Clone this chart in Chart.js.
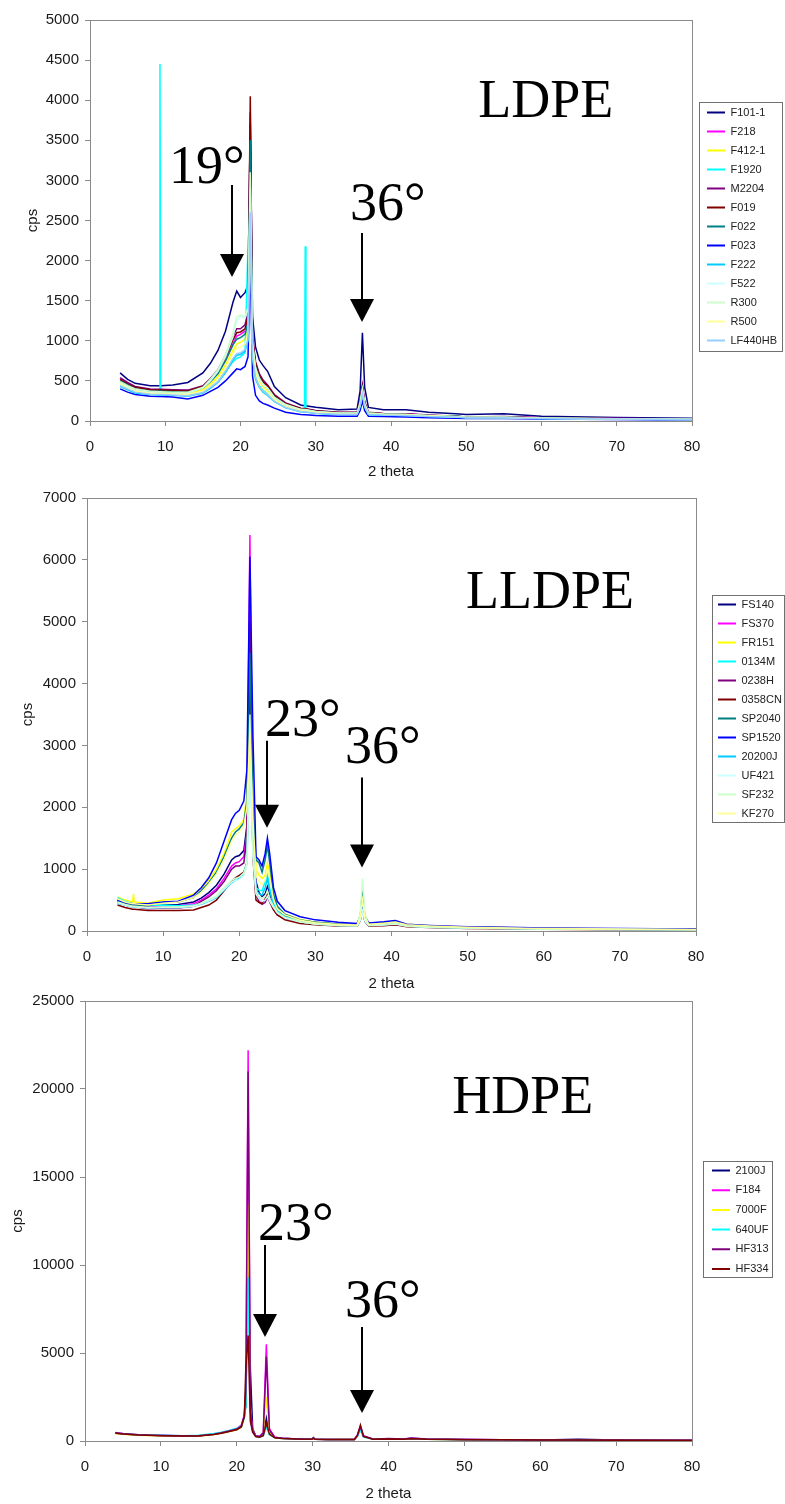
<!DOCTYPE html>
<html>
<head>
<meta charset="utf-8">
<title>XRD patterns of LDPE, LLDPE and HDPE films</title>
<script src="https://cdn.jsdelivr.net/npm/chart.js@4.4.1/dist/chart.umd.min.js"></script>
<style>
  html, body { margin: 0; padding: 0; background: #fff; }
  body { position: relative; width: 785px; height: 1504px; overflow: hidden; }
  canvas { position: absolute; left: 0; }
</style>
</head>
<body>
<canvas id="ldpeChart" width="785" height="486" style="top:0px"></canvas>
<canvas id="lldpeChart" width="785" height="515" style="top:483px"></canvas>
<canvas id="hdpeChart" width="785" height="519" style="top:985px"></canvas>
<script>
// x axis (2 theta) ticks, shared by the three panels
const thetaTicks = [0, 10, 20, 30, 40, 50, 60, 70, 80]

// ---- LDPE ----
const ldpeNames = ['F101-1', 'F218', 'F412-1', 'F1920', 'M2204', 'F019', 'F022', 'F023', 'F222', 'F522', 'R300', 'R500', 'LF440HB']
const ldpeYTicks = [0, 500, 1000, 1500, 2000, 2500, 3000, 3500, 4000, 4500, 5000]
const ldpeTheta = [4, 5, 6, 8, 9.2, 9.3, 9.4, 11, 13, 15, 16, 17, 18, 19, 19.5, 20, 20.6, 21, 21.3, 21.6, 22, 22.5, 23, 23.6, 24.5, 26, 28, 28.5, 28.6, 28.7, 30, 33, 35.5, 35.9, 36.2, 36.5, 37, 39, 42, 45, 48.6, 50, 55, 60, 70, 80]
const ldpeCps = [
  [600, 520, 470, 440, 440, 440, 440, 450, 480, 600, 720, 880, 1120, 1480, 1620, 1540, 1600, 1700, 3700, 1300, 920, 760, 690, 620, 430, 290, 200, 190, 190, 190, 170, 140, 150, 380, 1100, 420, 170, 140, 140, 110, 90, 80, 90, 60, 45, 35],
  [520, 470, 420, 390, 385, 385, 385, 380, 370, 420, 500, 600, 760, 960, 1060, 1080, 1120, 1250, 3300, 1000, 700, 560, 480, 420, 310, 210, 150, 145, 145, 145, 120, 100, 100, 230, 420, 230, 100, 90, 90, 70, 60, 50, 50, 40, 30, 25],
  [480, 430, 390, 360, 355, 355, 355, 350, 345, 390, 460, 550, 700, 880, 960, 980, 1020, 1150, 2700, 900, 620, 500, 430, 380, 280, 190, 135, 130, 130, 130, 110, 95, 95, 210, 380, 200, 95, 85, 80, 65, 55, 45, 45, 35, 28, 22],
  [450, 400, 360, 340, 340, 4450, 340, 330, 320, 350, 410, 490, 620, 740, 780, 800, 850, 2200, 2600, 820, 560, 450, 390, 340, 250, 170, 120, 120, 2180, 120, 100, 85, 85, 200, 360, 190, 85, 75, 70, 60, 70, 45, 40, 32, 25, 20],
  [540, 480, 430, 400, 395, 395, 395, 390, 385, 440, 530, 640, 820, 1050, 1150, 1150, 1200, 1350, 3850, 1050, 740, 590, 510, 450, 330, 225, 160, 155, 155, 155, 130, 110, 110, 250, 450, 240, 110, 95, 90, 75, 60, 50, 55, 40, 30, 25],
  [520, 460, 420, 390, 385, 385, 385, 380, 375, 430, 520, 620, 790, 1010, 1100, 1110, 1150, 1300, 4050, 1020, 720, 570, 490, 440, 320, 215, 155, 150, 150, 150, 125, 105, 105, 240, 430, 230, 105, 90, 85, 70, 58, 48, 50, 38, 28, 22],
  [500, 450, 400, 375, 370, 370, 370, 365, 360, 410, 490, 590, 750, 950, 1020, 1040, 1080, 1220, 3500, 960, 680, 540, 460, 410, 300, 205, 145, 140, 140, 140, 118, 100, 100, 225, 400, 215, 100, 88, 82, 68, 55, 46, 48, 36, 27, 21],
  [400, 360, 330, 310, 305, 305, 305, 300, 275, 320, 370, 420, 500, 600, 650, 640, 680, 800, 2000, 560, 320, 250, 220, 200, 160, 110, 80, 78, 78, 78, 70, 60, 58, 130, 250, 130, 60, 55, 50, 42, 35, 30, 30, 25, 18, 14],
  [430, 390, 350, 330, 325, 325, 325, 320, 310, 350, 410, 480, 600, 760, 820, 830, 870, 1000, 3000, 780, 520, 420, 360, 320, 240, 165, 115, 112, 112, 112, 95, 80, 80, 180, 330, 175, 80, 72, 68, 55, 48, 40, 38, 30, 23, 18],
  [470, 420, 380, 355, 350, 350, 350, 345, 350, 410, 500, 620, 800, 1050, 1250, 1300, 1280, 1400, 2900, 950, 650, 520, 450, 400, 290, 200, 140, 138, 138, 138, 115, 97, 97, 220, 390, 210, 97, 85, 80, 66, 54, 45, 46, 35, 26, 20],
  [490, 440, 400, 370, 365, 365, 365, 360, 360, 420, 520, 640, 830, 1100, 1300, 1320, 1300, 1420, 3100, 970, 660, 530, 460, 410, 295, 205, 145, 142, 142, 142, 118, 100, 100, 230, 400, 215, 100, 88, 82, 68, 56, 46, 47, 36, 27, 21],
  [460, 410, 370, 345, 340, 340, 340, 335, 330, 370, 440, 520, 660, 840, 910, 920, 960, 1100, 2500, 860, 590, 470, 410, 360, 265, 180, 128, 125, 125, 125, 105, 90, 90, 200, 360, 190, 90, 80, 75, 62, 52, 43, 43, 33, 25, 19],
  [440, 400, 360, 335, 330, 330, 330, 325, 315, 355, 420, 490, 620, 780, 840, 850, 890, 1020, 2600, 800, 540, 430, 370, 330, 245, 168, 118, 115, 115, 115, 98, 83, 83, 185, 340, 180, 83, 74, 70, 57, 49, 41, 40, 31, 24, 18]
]

// ---- LLDPE ----
const lldpeNames = ['FS140', 'FS370', 'FR151', '0134M', '0238H', '0358CN', 'SP2040', 'SP1520', '20200J', 'UF421', 'SF232', 'KF270']
const lldpeYTicks = [0, 1000, 2000, 3000, 4000, 5000, 6000, 7000]
const lldpeTheta = [4, 5, 6, 6.1, 6.2, 8, 10, 12, 14, 15, 16, 17, 18, 19, 19.5, 20, 20.6, 21, 21.4, 21.8, 22.2, 22.6, 23, 23.4, 23.7, 24, 24.5, 25, 26, 28, 30, 33, 35.5, 35.9, 36.2, 36.5, 37, 39, 40.5, 42, 45, 50, 55, 60, 70, 80]
const lldpeCps = [
  [500, 450, 420, 420, 420, 400, 420, 430, 470, 530, 620, 740, 920, 1150, 1200, 1220, 1300, 1700, 5300, 1600, 800, 620, 560, 600, 720, 600, 420, 320, 240, 170, 140, 110, 100, 200, 380, 180, 100, 110, 130, 90, 70, 55, 45, 38, 30, 25],
  [480, 440, 410, 410, 410, 390, 400, 410, 440, 500, 580, 680, 850, 1050, 1100, 1120, 1200, 1600, 6400, 1500, 700, 520, 470, 500, 600, 520, 380, 290, 220, 160, 130, 100, 95, 190, 360, 170, 95, 100, 120, 85, 65, 50, 42, 35, 28, 22],
  [550, 500, 470, 600, 470, 450, 500, 520, 600, 690, 830, 1000, 1250, 1600, 1650, 1700, 1800, 2200, 3300, 2400, 1000, 900, 850, 900, 1100, 950, 550, 380, 270, 185, 140, 110, 100, 260, 600, 230, 120, 140, 160, 110, 85, 65, 55, 45, 35, 28],
  [540, 480, 440, 440, 440, 410, 420, 410, 420, 450, 500, 560, 680, 800, 840, 880, 950, 1100, 3700, 1400, 700, 660, 650, 800, 930, 700, 450, 320, 230, 160, 120, 95, 90, 200, 400, 180, 95, 105, 120, 85, 65, 50, 40, 35, 28, 22],
  [470, 420, 390, 390, 390, 360, 370, 370, 400, 480, 550, 650, 800, 1000, 1050, 1050, 1100, 1500, 5000, 1300, 600, 470, 430, 460, 550, 470, 340, 260, 200, 140, 115, 90, 85, 180, 350, 160, 90, 95, 110, 80, 60, 48, 40, 33, 26, 20],
  [420, 380, 350, 350, 350, 330, 330, 330, 340, 380, 420, 500, 650, 800, 860, 900, 950, 1100, 4300, 1200, 500, 460, 450, 520, 620, 480, 350, 260, 180, 120, 100, 80, 75, 170, 450, 160, 80, 85, 100, 70, 55, 42, 35, 30, 22, 18],
  [480, 440, 420, 420, 420, 410, 460, 470, 540, 650, 780, 950, 1200, 1500, 1600, 1650, 1750, 2100, 4500, 2000, 1150, 1100, 950, 1150, 1380, 1100, 600, 400, 270, 180, 140, 110, 100, 240, 650, 220, 110, 130, 150, 100, 80, 60, 50, 42, 32, 26],
  [500, 460, 440, 440, 440, 440, 470, 480, 580, 700, 860, 1100, 1450, 1800, 1900, 1950, 2100, 2600, 6050, 3150, 1200, 1150, 1050, 1250, 1500, 1250, 700, 480, 330, 230, 180, 140, 120, 250, 400, 240, 130, 150, 170, 110, 90, 70, 60, 50, 40, 32],
  [450, 420, 390, 390, 390, 370, 380, 380, 400, 430, 480, 540, 660, 780, 820, 850, 920, 1100, 3000, 1300, 650, 600, 580, 700, 850, 650, 420, 300, 220, 150, 115, 90, 85, 180, 330, 170, 90, 100, 115, 80, 62, 48, 40, 33, 26, 20],
  [460, 420, 390, 390, 390, 370, 380, 380, 400, 440, 490, 550, 670, 790, 820, 830, 900, 1050, 2800, 1200, 600, 520, 480, 500, 560, 480, 380, 290, 210, 145, 112, 88, 82, 175, 320, 165, 88, 98, 112, 78, 60, 47, 39, 32, 25, 19],
  [470, 430, 400, 400, 400, 380, 390, 390, 410, 450, 500, 570, 700, 820, 850, 870, 940, 1100, 3500, 1300, 650, 560, 520, 560, 650, 520, 400, 300, 220, 150, 115, 90, 85, 300, 850, 280, 95, 105, 120, 82, 62, 48, 40, 33, 26, 20],
  [520, 470, 440, 440, 440, 420, 450, 470, 540, 620, 760, 920, 1150, 1450, 1550, 1600, 1700, 2000, 3200, 1800, 900, 800, 750, 820, 1000, 850, 500, 360, 260, 175, 135, 105, 95, 220, 500, 210, 110, 125, 145, 100, 80, 60, 50, 42, 32, 26]
]

// ---- HDPE ----
const hdpeNames = ['2100J', 'F184', '7000F', '640UF', 'HF313', 'HF334']
const hdpeYTicks = [0, 5000, 10000, 15000, 20000, 25000]
const hdpeTheta = [4, 5, 7, 10, 13, 15, 17, 18, 19, 20, 20.6, 21, 21.2, 21.5, 21.8, 22.1, 22.5, 23, 23.5, 23.9, 24.3, 25, 26, 28, 29.9, 30.1, 30.3, 32, 35.5, 35.9, 36.3, 36.7, 38, 40, 42, 43, 45, 50, 55, 60, 65, 70, 80]
const hdpeCps = [
  [450, 400, 340, 310, 300, 300, 380, 450, 550, 650, 800, 1400, 2000, 10500, 4000, 700, 300, 250, 400, 1300, 500, 200, 150, 120, 110, 200, 110, 90, 90, 300, 700, 250, 100, 120, 110, 150, 110, 80, 70, 60, 100, 50, 40],
  [480, 420, 350, 320, 290, 300, 400, 480, 580, 700, 900, 1500, 3000, 22200, 1800, 600, 280, 250, 500, 5500, 700, 220, 150, 120, 100, 180, 100, 90, 90, 350, 850, 300, 100, 130, 110, 160, 110, 80, 70, 60, 60, 50, 40],
  [430, 390, 330, 300, 280, 290, 370, 440, 540, 640, 780, 1300, 2500, 13500, 1500, 550, 260, 230, 380, 2500, 450, 200, 140, 110, 100, 150, 100, 85, 85, 280, 650, 230, 95, 110, 100, 130, 100, 75, 65, 55, 55, 45, 35],
  [460, 410, 350, 320, 300, 320, 420, 500, 600, 720, 850, 1300, 2000, 9300, 1200, 500, 250, 220, 300, 800, 350, 180, 140, 110, 100, 160, 100, 85, 85, 260, 600, 220, 95, 110, 100, 130, 100, 75, 65, 55, 55, 45, 35],
  [470, 410, 350, 310, 290, 300, 390, 470, 570, 680, 850, 1400, 2800, 21000, 1700, 580, 270, 240, 450, 4800, 650, 210, 150, 120, 100, 170, 100, 90, 90, 320, 800, 280, 100, 140, 110, 150, 110, 80, 70, 60, 60, 50, 40],
  [440, 400, 340, 300, 280, 290, 370, 440, 540, 640, 800, 1400, 4200, 6000, 1100, 500, 250, 220, 300, 1000, 400, 180, 140, 110, 100, 150, 100, 85, 85, 300, 900, 260, 95, 110, 100, 130, 100, 75, 65, 55, 55, 45, 35]
]

// Excel 2003 default series colours
const seriesColors = ['#000080', '#FF00FF', '#FFFF00', '#00FFFF', '#800080', '#800000', '#008080', '#0000FF', '#00CCFF', '#CCFFFF', '#CCFFCC', '#FFFF99', '#99CCFF']
const axisGray = '#8a8a8a'

Chart.defaults.font.family = "'Liberation Sans', Arial, sans-serif"
Chart.defaults.color = '#1a1a1a'

// grey frame round the plot area (Excel style)
const plotFrame = {
  id: 'plotFrame',
  afterDraw(chart) {
    const { ctx, chartArea: a } = chart
    ctx.save()
    ctx.strokeStyle = axisGray
    ctx.lineWidth = 1
    ctx.strokeRect(Math.round(a.left) + 0.5, Math.round(a.top) + 0.5, Math.round(a.right - a.left), Math.round(a.bottom - a.top))
    ctx.restore()
  }
}

// move the legend to the right of the plot and box it
const legendSpot = spot => ({
  id: 'legendSpot',
  afterLayout(chart) {
    const lg = chart.legend
    lg.left = spot.x - spot.gap
    lg.right = lg.left + lg.width
    lg.top = spot.y - spot.gap
    lg.bottom = lg.top + lg.height
  },
  afterDraw(chart) {
    const boxes = chart.legend.legendHitBoxes
    if (!boxes || !boxes.length) return
    const left = Math.min(...boxes.map(b => b.left)) - spot.frame[0]
    const top = Math.min(...boxes.map(b => b.top)) - spot.frame[1]
    const right = Math.max(...boxes.map(b => b.left + b.width)) + spot.frame[2]
    const bottom = Math.max(...boxes.map(b => b.top + b.height)) + spot.frame[3]
    const ctx = chart.ctx
    ctx.save()
    ctx.strokeStyle = '#707070'
    ctx.lineWidth = 1
    ctx.strokeRect(Math.round(left) + 0.5, Math.round(top) + 0.5, Math.round(right - left), Math.round(bottom - top))
    ctx.restore()
  }
})

// big serif labels and the arrows pointing at the peaks
const peakMarks = marks => ({
  id: 'peakMarks',
  afterDraw(chart) {
    const { ctx, scales: { x, y } } = chart
    ctx.save()
    ctx.fillStyle = '#000'
    ctx.strokeStyle = '#000'
    ctx.font = "54px 'Liberation Serif', 'Times New Roman', serif"
    ctx.textAlign = 'left'
    ctx.textBaseline = 'alphabetic'
    ctx.fillText(marks.title, x.getPixelForValue(marks.titleAt[0]), y.getPixelForValue(marks.titleAt[1]))
    marks.arrows.forEach(a => {
      const px = Math.round(x.getPixelForValue(a.at[0]))
      const py = y.getPixelForValue(a.at[1])
      ctx.lineWidth = 2
      ctx.beginPath()
      ctx.moveTo(px, py - a.len)
      ctx.lineTo(px, py - 20)
      ctx.stroke()
      ctx.beginPath()
      ctx.moveTo(px - 12, py - 23)
      ctx.lineTo(px + 12, py - 23)
      ctx.lineTo(px, py)
      ctx.closePath()
      ctx.fill()
      ctx.fillText(a.text, px + a.dx, py + a.dy)
    })
    ctx.restore()
  }
})

function drawXrd(canvasId, s) {
  const count = s.names.length
  const datasets = s.names.map((name, i) => ({
    label: name,
    data: s.theta.map((t, j) => ({ x: t, y: s.cps[i][j] })),
    borderColor: seriesColors[i],
    backgroundColor: seriesColors[i],
    borderWidth: 1.5,
    pointRadius: 0,
    tension: 0,
    order: count - i // later series paint on top, like Excel
  }))

  return new Chart(document.getElementById(canvasId), {
    type: 'line',
    data: { datasets },
    options: {
      responsive: false,
      devicePixelRatio: 1,
      animation: false,
      events: [],
      layout: { padding: { left: 0, right: s.right, top: s.top, bottom: 0 } },
      plugins: {
        legend: {
          position: 'chartArea',
          align: 'start',
          labels: {
            boxWidth: 18,
            boxHeight: 2,
            padding: s.legend.gap,
            color: '#222',
            font: { size: 11 },
            sort: (a, b) => a.datasetIndex - b.datasetIndex,
            // plain coloured strip as the line sample
            generateLabels: chart => Chart.defaults.plugins.legend.labels.generateLabels(chart)
              .map(item => ({ ...item, fillStyle: seriesColors[item.datasetIndex], lineWidth: 0 }))
          }
        },
        tooltip: { enabled: false }
      },
      scales: {
        x: {
          type: 'linear',
          min: 0,
          max: 80,
          afterBuildTicks: sc => { sc.ticks = thetaTicks.map(v => ({ value: v })) },
          afterFit: sc => { sc.height = s.xBand },
          ticks: { padding: 11.5, font: { size: 15 }, callback: v => String(v) },
          grid: { drawOnChartArea: false, color: axisGray, tickLength: 5 },
          border: { display: false },
          title: { display: true, text: '2 theta', font: { size: 15 }, padding: { top: 0, bottom: s.xTitlePad } }
        },
        y: {
          type: 'linear',
          min: 0,
          max: s.yTicks[s.yTicks.length - 1],
          afterBuildTicks: sc => { sc.ticks = s.yTicks.map(v => ({ value: v })) },
          afterFit: sc => { sc.width = s.yBand },
          ticks: { padding: 6, font: { size: 15 }, callback: v => String(v) },
          grid: { drawOnChartArea: false, color: axisGray, tickLength: 5 },
          border: { display: false },
          title: { display: true, text: 'cps', font: { size: 15 }, padding: { top: s.yTitlePad, bottom: 0 } }
        }
      }
    },
    plugins: [legendSpot(s.legend), plotFrame, peakMarks(s.marks)]
  })
}

drawXrd('ldpeChart', {
  names: ldpeNames, theta: ldpeTheta, cps: ldpeCps, yTicks: ldpeYTicks,
  top: 20, right: 93, yBand: 90, xBand: 65, xTitlePad: 5, yTitlePad: 23.5,
  legend: { x: 707, y: 107, gap: 8, frame: [8, 5, 5, 5] },
  marks: {
    title: 'LDPE', titleAt: [51.6, 3790],
    arrows: [
      { text: '19°', at: [18.87, 1796], len: 92, dx: -63, dy: -94 },
      { text: '36°', at: [36.15, 1234], len: 89, dx: -12, dy: -102 }
    ]
  }
})

drawXrd('lldpeChart', {
  names: lldpeNames, theta: lldpeTheta, cps: lldpeCps, yTicks: lldpeYTicks,
  top: 12, right: 89, yBand: 87, xBand: 67, xTitlePad: 5, yTitlePad: 19,
  legend: { x: 718, y: 116, gap: 8, frame: [6, 4, 2, 3] },
  marks: {
    title: 'LLDPE', titleAt: [49.8, 5218],
    arrows: [
      { text: '23°', at: [23.65, 1670], len: 87, dx: -2, dy: -92 },
      { text: '36°', at: [36.12, 1027], len: 90, dx: -17, dy: -104 }
    ]
  }
})

drawXrd('hdpeChart', {
  names: hdpeNames, theta: hdpeTheta, cps: hdpeCps, yTicks: hdpeYTicks,
  top: 16, right: 93, yBand: 85, xBand: 63, xTitlePad: 1, yTitlePad: 8.5,
  legend: { x: 712, y: 180, gap: 8.7, frame: [9, 4, 3, 3] },
  marks: {
    title: 'HDPE', titleAt: [48.4, 18636],
    arrows: [
      { text: '23°', at: [23.72, 5909], len: 92, dx: -7, dy: -97 },
      { text: '36°', at: [36.5, 1591], len: 86, dx: -17, dy: -96 }
    ]
  }
})
</script>
</body>
</html>
